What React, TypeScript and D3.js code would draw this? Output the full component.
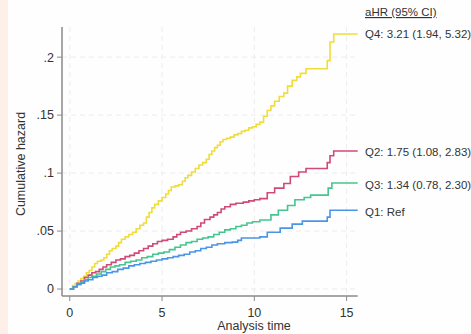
import React from "react";
import * as d3 from "d3";

// cumulative hazard by quartile (time, value)
const q4: [number, number][] = [[0,0],[0.15,0.003],[0.3,0.005],[0.45,0.007],[0.6,0.009],[0.75,0.011],[0.9,0.014],[1.05,0.016],[1.2,0.019],[1.35,0.022],[1.5,0.024],[1.7,0.025],[1.85,0.027],[2.0,0.030],[2.15,0.033],[2.3,0.035],[2.5,0.037],[2.65,0.040],[2.8,0.043],[3.0,0.045],[3.2,0.047],[3.4,0.049],[3.6,0.052],[3.8,0.055],[4.0,0.057],[4.15,0.062],[4.3,0.066],[4.45,0.070],[4.6,0.073],[4.8,0.076],[5.0,0.079],[5.2,0.082],[5.35,0.085],[5.5,0.088],[5.7,0.089],[5.9,0.090],[6.1,0.093],[6.25,0.096],[6.4,0.098],[6.6,0.101],[6.8,0.104],[7.0,0.107],[7.2,0.109],[7.4,0.112],[7.55,0.116],[7.7,0.119],[7.85,0.122],[8.0,0.124],[8.15,0.127],[8.3,0.129],[8.5,0.130],[8.7,0.131],[8.9,0.133],[9.1,0.134],[9.3,0.136],[9.5,0.137],[9.7,0.139],[9.9,0.140],[10.1,0.142],[10.3,0.144],[10.5,0.149],[10.7,0.154],[10.9,0.158],[11.1,0.162],[11.35,0.166],[11.6,0.169],[11.8,0.175],[12.05,0.180],[12.3,0.183],[12.5,0.186],[12.8,0.190],[13.95,0.197],[14.1,0.213],[14.3,0.220],[15.6,0.220]];
const q2: [number, number][] = [[0,0],[0.2,0.002],[0.4,0.005],[0.6,0.007],[0.8,0.010],[1.0,0.012],[1.2,0.014],[1.4,0.015],[1.6,0.017],[1.8,0.019],[2.0,0.021],[2.25,0.023],[2.5,0.025],[2.75,0.026],[3.0,0.028],[3.25,0.029],[3.5,0.031],[3.75,0.033],[4.0,0.035],[4.25,0.037],[4.5,0.039],[4.75,0.041],[5.0,0.042],[5.3,0.043],[5.6,0.045],[5.8,0.047],[6.0,0.049],[6.3,0.050],[6.6,0.052],[6.9,0.054],[7.1,0.057],[7.3,0.060],[7.6,0.062],[7.8,0.064],[8.0,0.066],[8.2,0.069],[8.4,0.071],[8.7,0.073],[9.0,0.074],[9.4,0.075],[9.7,0.076],[10.0,0.077],[10.3,0.078],[10.7,0.083],[11.1,0.087],[11.6,0.091],[11.95,0.097],[12.4,0.101],[12.8,0.104],[13.95,0.109],[14.1,0.115],[14.3,0.119],[15.6,0.119]];
const q3: [number, number][] = [[0,0],[0.2,0.002],[0.4,0.004],[0.6,0.006],[0.8,0.008],[1.0,0.010],[1.2,0.011],[1.45,0.013],[1.7,0.015],[1.95,0.017],[2.2,0.019],[2.45,0.020],[2.7,0.021],[3.0,0.023],[3.3,0.024],[3.6,0.025],[3.9,0.027],[4.2,0.028],[4.5,0.030],[4.8,0.031],[5.1,0.032],[5.4,0.034],[5.7,0.036],[6.0,0.038],[6.3,0.040],[6.6,0.041],[6.9,0.043],[7.2,0.044],[7.5,0.045],[7.8,0.047],[8.1,0.049],[8.4,0.051],[8.7,0.052],[9.0,0.054],[9.3,0.055],[9.6,0.057],[9.9,0.058],[10.3,0.0595],[10.9,0.064],[11.3,0.068],[11.8,0.072],[12.2,0.077],[12.7,0.079],[13.05,0.081],[14.0,0.087],[14.2,0.0915],[15.6,0.0915]];
const q1: [number, number][] = [[0,0],[0.2,0.002],[0.4,0.004],[0.6,0.005],[0.8,0.007],[1.0,0.008],[1.25,0.010],[1.5,0.011],[1.75,0.012],[2.0,0.014],[2.3,0.015],[2.6,0.017],[2.9,0.018],[3.2,0.020],[3.5,0.021],[3.8,0.022],[4.1,0.023],[4.4,0.024],[4.7,0.025],[5.0,0.026],[5.3,0.027],[5.6,0.028],[5.9,0.029],[6.2,0.030],[6.5,0.032],[6.8,0.033],[7.1,0.035],[7.4,0.036],[7.7,0.038],[8.0,0.039],[8.4,0.040],[8.8,0.0405],[9.1,0.042],[9.3,0.044],[9.9,0.044],[10.3,0.045],[10.7,0.049],[11.4,0.0525],[12.05,0.056],[12.6,0.0586],[13.95,0.062],[14.1,0.068],[15.6,0.068]];

const seriesLabels = ["Q4: 3.21 (1.94, 5.32)", "Q2: 1.75 (1.08, 2.83)", "Q3: 1.34 (0.78, 2.30)", "Q1: Ref"];
const seriesColors = ["#f0dc3a", "#d04a78", "#45c58f", "#4b95e6"];
const xTicks = [0, 5, 10, 15];
const yTicks = [0, 0.05, 0.1, 0.15, 0.2];
const yTickLabels = ["0", ".05", ".1", ".15", ".2"];

const W = 471, H = 334;
const font = "'Liberation Sans', Arial, sans-serif";

export default function App() {
  const x = d3.scaleLinear().domain([-0.42, 15.6]).range([62, 357.7]);
  const y = d3.scaleLinear().domain([-0.006, 0.226]).range([296, 27]);
  const line = d3.line<[number, number]>()
    .x(d => x(d[0]))
    .y(d => y(d[1]))
    .curve(d3.curveStepAfter);

  const series = [q4, q2, q3, q1];
  const labelY = [34, 152, 185, 212];

  return (
    <svg width={W} height={H} style={{ position: "absolute", left: 0, top: 0 }} fontFamily={font}>
      <rect width={W} height={H} fill="#fefefe" />
      <rect width={8} height={H} fill="#fcf0e9" />

      {/* grid */}
      {xTicks.map(t => (
        <line key={"gx" + t} x1={x(t)} x2={x(t)} y1={y.range()[1]} y2={y.range()[0]}
          stroke="#ececec" strokeDasharray="5,4" />
      ))}
      {yTicks.map(t => (
        <line key={"gy" + t} x1={x.range()[0]} x2={x.range()[1]} y1={y(t)} y2={y(t)}
          stroke="#ececec" strokeDasharray="5,4" />
      ))}

      {/* axes */}
      <line x1={62} x2={62} y1={y.range()[1]} y2={296} stroke="#8a8a8a" strokeWidth={1.5} />
      <line x1={62} x2={x.range()[1]} y1={296} y2={296} stroke="#8a8a8a" strokeWidth={1.5} />
      {yTicks.map((t, i) => (
        <g key={"yt" + t}>
          <line x1={57} x2={62} y1={y(t)} y2={y(t)} stroke="#8a8a8a" />
          <text x={54} y={y(t)} dy="0.35em" textAnchor="end" fontSize={12.5} fill="#333">{yTickLabels[i]}</text>
        </g>
      ))}
      {xTicks.map(t => (
        <g key={"xt" + t}>
          <line x1={x(t)} x2={x(t)} y1={296} y2={301} stroke="#8a8a8a" />
          <text x={x(t)} y={313} dy="0.35em" textAnchor="middle" fontSize={12.5} fill="#333">{t}</text>
        </g>
      ))}
      <text x={254} y={326} dy="0.35em" textAnchor="middle" fontSize={12.5} fill="#333">Analysis time</text>
      <text transform="translate(21,164) rotate(-90)" dy="0.35em" textAnchor="middle" fontSize={12.5} fill="#333">Cumulative hazard</text>

      {/* curves */}
      {series.map((s, i) => (
        <path key={"s" + i} d={line(s) || ""} fill="none" stroke={seriesColors[i]} strokeWidth={1.6} />
      ))}

      {/* labels */}
      <text x={365} y={12} dy="0.35em" fontSize={11.5} fill="#333" textDecoration="underline">aHR (95% CI)</text>
      {seriesLabels.map((lab, i) => (
        <text key={lab} x={365} y={labelY[i]} dy="0.35em" fontSize={11.5} fill="#333">{lab}</text>
      ))}
    </svg>
  );
}
